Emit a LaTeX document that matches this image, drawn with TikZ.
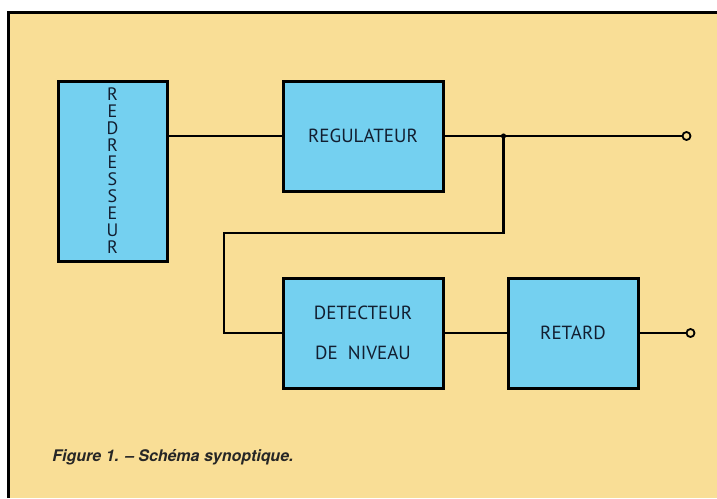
\documentclass[tikz,border=0pt]{standalone}
\usepackage{fontspec}
\setmainfont{PT Sans}
\newfontfamily\capfont{TeX Gyre Heros}
\usepackage{tikz}
\usetikzlibrary{positioning,calc}
\definecolor{paper}{RGB}{249,222,150}
\definecolor{boxblue}{RGB}{116,208,240}
\definecolor{ink}{RGB}{18,30,48}

\begin{document}
\begin{tikzpicture}[x=1pt,y=-1pt, line width=2.2pt,
  every node/.style={font=\fontsize{19}{22}\selectfont, text=ink},
  block/.style={draw=black, fill=boxblue, line width=3pt, align=center, inner sep=0pt},
  term/.style={circle, draw=black, fill=paper, line width=1.8pt, minimum size=8pt, inner sep=0pt}]
\useasboundingbox (0,0) rectangle (717,498);
\fill[white] (0,0) rectangle (717,498);
\fill[paper] (8,12) rectangle (717,498);
\draw[line width=3pt] (8,498) -- (8,12) -- (717,12);
\node (red) [block, minimum width=109pt, minimum height=180pt, font=\fontsize{18}{17}\selectfont] at (112.5,171) {R\\E\\D\\R\\E\\S\\S\\E\\U\\R};
\node (reg) [block, minimum width=160pt, minimum height=110pt, right=113pt of red.north east, anchor=north west] {REGULATEUR};
\node (det) [block, minimum width=160pt, minimum height=110pt, below=84pt of reg, font=\fontsize{19}{40}\selectfont] {DETECTEUR\\DE\ \ NIVEAU};
\node (ret) [block, minimum width=130pt, minimum height=110pt, right=62pt of det] {RETARD};
\coordinate (j) at ($(reg.east)+(59,0)$);
\coordinate (k) at (224,233);
\node (o1) [term] at ($(reg.east)+(242,0)$) {};
\node (o2) [term] at ($(ret.east)+(51,0)$) {};
\draw (red.east |- reg.west) -- (reg.west);
\draw (reg.east) -- (o1);
\draw (j) |- (k) |- (det.west);
\fill (j) circle (2.6pt);
\draw (det.east) -- (ret.west);
\draw (ret.east) -- (o2);
\node (cap) [anchor=west, font=\capfont\bfseries\itshape\fontsize{16}{18}\selectfont, text=black!85] at (48,457) {Figure 1. – Schéma synoptique.};
\end{tikzpicture}
\end{document}
